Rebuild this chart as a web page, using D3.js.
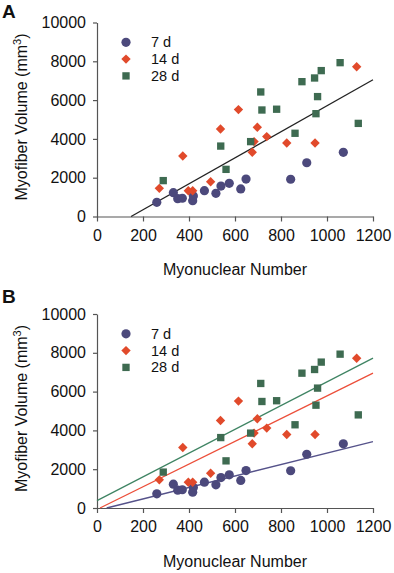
<!DOCTYPE html>
<html>
<head>
<meta charset="utf-8">
<script src="https://cdn.jsdelivr.net/npm/d3@7"></script>
<style>
  body { margin: 0; background: #fff; }
  svg { display: block; font-family: "Liberation Sans", Arial, sans-serif; }
</style>
</head>
<body>
<div id="chart"></div>
<script>
// Myonuclear number vs myofiber volume
const series = ["7 d", "14 d", "28 d"];

const nuc7 = [260, 332, 351, 371, 416, 419, 467, 517, 539, 575, 625, 648, 842, 912, 1071];
const vol7 = [730, 1230, 920, 940, 815, 1060, 1330, 1195, 1570, 1710, 1420, 1930, 1920, 2770, 3310];

const nuc14 = [271, 373, 397, 416, 494, 537, 615, 675, 683, 697, 738, 825, 948, 1129];
const vol14 = [1450, 3120, 1330, 1330, 1790, 4510, 5510, 3310, 3860, 4600, 4120, 3790, 3790, 7720];

const nuc28 = [288, 538, 561, 668, 712, 717, 781, 861, 891, 946, 952, 959, 975, 1057, 1136];
const vol28 = [1850, 3630, 2430, 3860, 6420, 5490, 5530, 4290, 6950, 7140, 5300, 6180, 7520, 7930, 4800];

// fitted lines (slope, intercept) as drawn
const fitAll = [6.70, -992];
const fit7 = [2.954, -124];
const fit14 = [5.855, -76];
const fit28 = [6.12, 380];

const xTicks = [0, 200, 400, 600, 800, 1000, 1200];
const yTicks = [0, 2000, 4000, 6000, 8000, 10000];

const colors = { "7 d": "#4c497c", "14 d": "#e14a2b", "28 d": "#3e6b51" };
const lineColors = { "7 d": "#55528a", "14 d": "#ec4f3a", "28 d": "#3f8463" };

const W = 394, H = 573;
const svg = d3.select("#chart").append("svg")
  .attr("width", W).attr("height", H);

const x = d3.scaleLinear().domain([0, 1200]).range([97, 373]);

function pts(xs, ys) { return xs.map((d, i) => ({ x: d, y: ys[i] })); }
const data = {
  "7 d": pts(nuc7, vol7),
  "14 d": pts(nuc14, vol14),
  "28 d": pts(nuc28, vol28)
};

function marker(sel, name, cx, cy) {
  if (name === "7 d") {
    sel.append("circle").attr("cx", cx).attr("cy", cy).attr("r", 4.6)
      .attr("fill", colors[name]);
  } else if (name === "14 d") {
    sel.append("path").attr("transform", `translate(${cx},${cy}) rotate(45)`)
      .attr("d", d3.symbol(d3.symbolSquare, 44)())
      .attr("fill", colors[name]);
  } else {
    sel.append("path").attr("transform", `translate(${cx},${cy})`)
      .attr("d", d3.symbol(d3.symbolSquare, 54)())
      .attr("fill", colors[name]);
  }
}

function drawPanel(top, label, labelY, fits) {
  const g = svg.append("g").attr("transform", `translate(0,${top})`);
  const y = d3.scaleLinear().domain([0, 10000]).range([216.5, 22.5]);

  // axes
  const yAxis = g.append("g").attr("transform", "translate(97,0)")
    .call(d3.axisLeft(y).tickValues(yTicks).tickFormat(d3.format("d"))
      .tickSize(4).tickSizeOuter(0).tickPadding(7));
  const xAxis = g.append("g").attr("transform", "translate(0,216.5)")
    .call(d3.axisBottom(x).tickValues(xTicks).tickFormat(d3.format("d"))
      .tickSize(5).tickSizeOuter(0).tickPadding(8));
  [yAxis, xAxis].forEach(a => {
    a.select(".domain").attr("stroke", "#555").attr("stroke-width", 1.2);
    a.selectAll(".tick line").attr("stroke", "#555").attr("stroke-width", 1.2);
    a.selectAll("text").attr("font-size", 16).attr("fill", "#111")
      .attr("font-family", "Liberation Sans, Arial, sans-serif");
  });

  // fit lines
  fits.forEach(f => {
    const [m, b] = f.fit;
    const x0 = Math.max(0, -b / m);
    g.append("line")
      .attr("x1", x(x0)).attr("y1", y(m * x0 + b))
      .attr("x2", x(1200)).attr("y2", y(m * 1200 + b))
      .attr("stroke", f.color).attr("stroke-width", 1.3);
  });

  // points
  series.forEach(name => {
    const s = g.append("g");
    data[name].forEach(d => marker(s, name, x(d.x), y(d.y)));
  });

  // legend
  series.forEach((name, i) => {
    const cy = 42.3 + i * 16.8;
    marker(g, name, 126, cy);
    g.append("text").attr("x", 151).attr("y", cy + 5)
      .attr("font-size", 14.5).attr("fill", "#111").text(name);
  });

  // axis titles
  g.append("text").attr("x", 235).attr("y", 275)
    .attr("text-anchor", "middle").attr("font-size", 16).attr("fill", "#111")
    .text("Myonuclear Number");
  const yt = g.append("text")
    .attr("transform", "translate(27,117) rotate(-90)")
    .attr("text-anchor", "middle").attr("font-size", 16).attr("fill", "#111");
  yt.append("tspan").text("Myofiber Volume (mm");
  yt.append("tspan").attr("dy", -6).attr("font-size", 11).text("3");
  yt.append("tspan").attr("dy", 6).text(")");

  g.append("text").attr("x", 2).attr("y", labelY)
    .attr("font-size", 19).attr("font-weight", "bold").attr("fill", "#111")
    .text(label);
}

drawPanel(0, "A", 18, [{ fit: fitAll, color: "#222" }]);
drawPanel(291.5, "B", 11.5, [
  { fit: fit7, color: lineColors["7 d"] },
  { fit: fit14, color: lineColors["14 d"] },
  { fit: fit28, color: lineColors["28 d"] }
]);
</script>
</body>
</html>
